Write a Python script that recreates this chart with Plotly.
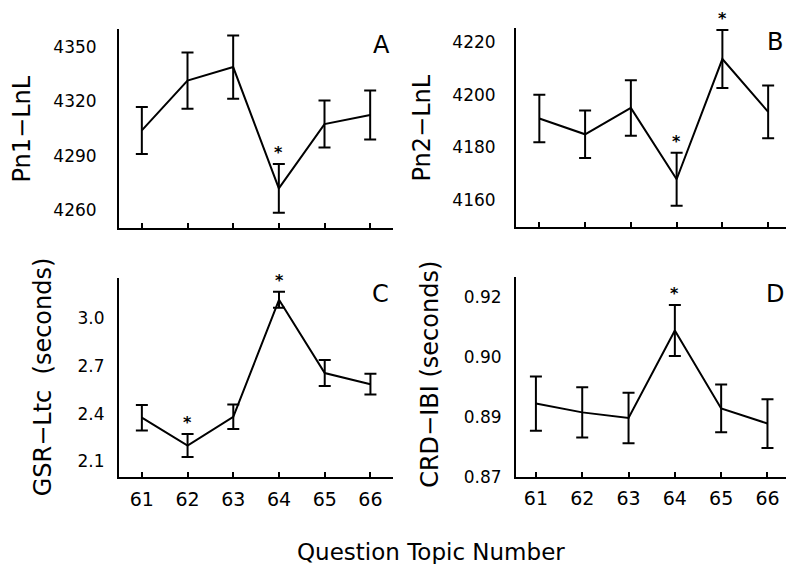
import plotly.graph_objects as go

# ---------------- data ----------------
questions = [61, 62, 63, 64, 65, 66]

pn1_lnl = [4304, 4331.5, 4339, 4272, 4307.5, 4312.5]
pn1_err = [13, 15.5, 17.5, 13.5, 13, 13.5]
pn1_sig = [64]

pn2_lnl = [4191, 4185, 4195, 4168, 4213.5, 4193.5]
pn2_err = [9, 9, 10.5, 10, 11, 10]
pn2_sig = [64, 65]

gsr_ltc = [2.375, 2.20, 2.38, 3.115, 2.655, 2.585]
gsr_err = [0.08, 0.072, 0.077, 0.05, 0.082, 0.065]
gsr_sig = [62, 64]

crd_ibi = [0.8883, 0.8861, 0.8847, 0.9066, 0.8871, 0.8833]
crd_err = [0.0068, 0.0063, 0.0063, 0.0064, 0.006, 0.0061]
crd_sig = [64]

pn1_ticks = [4260, 4290, 4320, 4350]
pn2_ticks = [4160, 4180, 4200, 4220]
gsr_ticks = [2.1, 2.4, 2.7, 3.0]
gsr_ticklabels = ["2.1", "2.4", "2.7", "3.0"]
crd_ticks = [0.87, 0.885, 0.90, 0.915]
crd_ticklabels = ["0.87", "0.89", "0.90", "0.92"]

x_ticklabels = ["61", "62", "63", "64", "65", "66"]

# ---------------- figure ----------------
W = 786
H_REF = 564      # reference picture height (layout measured in it)
H = 576          # figure height
FONT = "DejaVu Sans"


def px_x(p):
    return p / W


def px_y(p):
    return 1 - p / H_REF


fig = go.Figure()

panels = [
    (pn1_lnl, pn1_err, pn1_sig, ""),
    (pn2_lnl, pn2_err, pn2_sig, "2"),
    (gsr_ltc, gsr_err, gsr_sig, "3"),
    (crd_ibi, crd_err, crd_sig, "4"),
]

annotations = []
for vals, errs, sig, sfx in panels:
    fig.add_trace(go.Scatter(
        x=questions, y=vals, mode="lines",
        line=dict(color="black", width=2),
        error_y=dict(type="data", array=errs, visible=True,
                     color="black", thickness=2, width=6),
        xaxis="x" + sfx, yaxis="y" + sfx,
        showlegend=False, cliponaxis=False, hoverinfo="skip",
    ))
    for q in sig:
        i = questions.index(q)
        annotations.append(dict(
            x=q, y=vals[i] + errs[i], xref="x" + sfx, yref="y" + sfx,
            text="<b>*</b>", showarrow=False, yanchor="bottom", yshift=0,
            font=dict(family=FONT, size=16, color="black"),
        ))

common_x = dict(
    showline=True, linecolor="black", linewidth=2, mirror=False,
    showgrid=False, zeroline=False,
    ticks="inside", ticklen=5, tickwidth=2, tickcolor="black",
    tickvals=questions, ticktext=x_ticklabels,
    tickfont=dict(family=FONT, size=19, color="black"),
)
common_y = dict(
    showline=True, linecolor="black", linewidth=2, mirror=False,
    showgrid=False, zeroline=False, ticks="",
    tickfont=dict(family=FONT, size=17, color="black"),
)

layout = dict(
    width=W, height=H, autosize=False,
    margin=dict(l=0, r=0, t=0, b=0, pad=0),
    paper_bgcolor="white", plot_bgcolor="white",
    showlegend=False,
    font=dict(family=FONT, color="black"),
    # Panel A
    xaxis=dict(common_x, domain=[px_x(119), px_x(393)], range=[60.5, 66.5],
               anchor="y", showticklabels=False),
    yaxis=dict(common_y, domain=[px_y(227.3), px_y(29)], range=[4250, 4360],
               anchor="x", tickvals=pn1_ticks, ticklabelstandoff=17),
    # Panel B
    xaxis2=dict(common_x, domain=[px_x(516), 1.0], range=[60.49, 66.39],
                anchor="y2", showticklabels=False),
    yaxis2=dict(common_y, domain=[px_y(226), px_y(28)], range=[4150, 4225.2],
                anchor="x2", tickvals=pn2_ticks, ticklabelstandoff=15),
    # Panel C
    xaxis3=dict(common_x, domain=[px_x(119), px_x(393.3)], range=[60.5, 66.5],
                anchor="y3", ticklabelstandoff=4),
    yaxis3=dict(common_y, domain=[px_y(475.7), px_y(277.3)], range=[2.0, 3.25],
                anchor="x3", tickvals=gsr_ticks, ticktext=gsr_ticklabels,
                ticklabelstandoff=9),
    # Panel D
    xaxis4=dict(common_x, domain=[px_x(516), 1.0], range=[60.57, 66.40],
                anchor="y4", ticklabelstandoff=4),
    yaxis4=dict(common_y, domain=[px_y(475), px_y(276)], range=[0.87, 0.92],
                anchor="x4", tickvals=crd_ticks, ticktext=crd_ticklabels,
                ticklabelstandoff=9),
)

title_font = dict(family=FONT, size=24, color="black")
xtitle_font = dict(family=FONT, size=23, color="black")
letter_font = dict(family=FONT, size=24, color="black")

texts = [
    dict(text="Pn1\u2212LnL", x=px_x(22), y=px_y(129), textangle=-90, font=title_font),
    dict(text="Pn2\u2212LnL", x=px_x(421.5), y=px_y(127.5), textangle=-90, font=title_font),
    dict(text="GSR\u2212Ltc  (seconds)", x=px_x(42.5), y=px_y(375.5), textangle=-90, font=title_font),
    dict(text="CRD\u2212IBI (seconds)", x=px_x(430), y=px_y(372.5), textangle=-90, font=title_font),
    dict(text="Question Topic Number", x=px_x(431), y=px_y(550), font=xtitle_font),
    dict(text="A", x=px_x(381.5), y=px_y(45), font=letter_font),
    dict(text="B", x=px_x(775), y=px_y(42), font=letter_font),
    dict(text="C", x=px_x(380.5), y=px_y(292.5), font=letter_font),
    dict(text="D", x=px_x(775), y=px_y(292.5), font=letter_font),
]
for t in texts:
    t.update(xref="paper", yref="paper", showarrow=False,
             xanchor="center", yanchor="middle")
    annotations.append(t)

layout["annotations"] = annotations
fig.update_layout(**layout)

page_fix = (
    "document.documentElement.style.margin='0';"
    "document.body.style.margin='0';document.body.style.padding='0';"
)

fig.write_html(
    "out.html",
    config={"displayModeBar": False, "staticPlot": True},
    post_script=page_fix,
)
